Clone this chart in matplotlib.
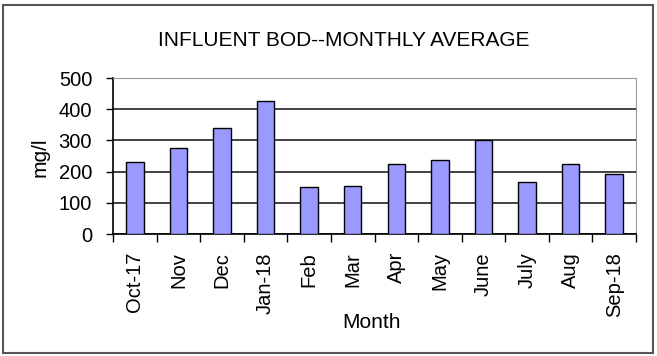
import matplotlib.pyplot as plt
from matplotlib.patches import Rectangle

months = ['Oct-17', 'Nov', 'Dec', 'Jan-18', 'Feb', 'Mar',
          'Apr', 'May', 'June', 'July', 'Aug', 'Sep-18']
bod = [232, 276, 341, 427, 151, 154, 223, 237, 301, 167, 223, 193]

plt.rcParams['font.family'] = ['Liberation Sans', 'DejaVu Sans']

fig = plt.figure(figsize=(6.57, 3.56), dpi=100)
W, H = 657, 356
ax = fig.add_axes([113 / W, 1 - 234 / H, (636 - 113) / W, (234 - 78) / H])

x = range(len(months))
ax.bar(x, bod, width=0.4, color='#9999ff', edgecolor='black', linewidth=1, zorder=3)

ax.set_xlim(-0.5, len(months) - 0.5)
ax.set_ylim(0, 500)
ax.set_yticks([0, 100, 200, 300, 400, 500])
ax.yaxis.grid(True, color='#222222', linewidth=1.2, zorder=0)
ax.set_axisbelow(True)

ax.set_xticks(list(x))
ax.set_xticklabels(months, rotation=90, fontsize=14.5)
ax.set_xticks([i - 0.5 for i in range(len(months) + 1)], minor=True)
ax.tick_params(axis='x', which='major', length=0, pad=13)
ax.tick_params(axis='x', which='minor', length=6, width=1, color='black', direction='out')
ax.tick_params(axis='y', length=5, width=1, labelsize=14.5, pad=10)

for side in ['top', 'right']:
    ax.spines[side].set_color('#999999')
ax.spines['left'].set_linewidth(1.2)
ax.spines['bottom'].set_linewidth(1.2)

fig.text(40 / W, 1 - 157 / H, 'mg/l', rotation=90, ha='center', va='center', fontsize=15)
fig.text(372 / W, 1 - 323 / H, 'Month', ha='center', va='center', fontsize=15)
fig.text(344 / W, 1 - 40 / H, 'INFLUENT BOD--MONTHLY AVERAGE', ha='center', va='center',
         fontsize=15)

fig.patches.append(Rectangle((3 / W, 3 / H), 650 / W, 348 / H, transform=fig.transFigure,
                             fill=False, edgecolor='#555555', linewidth=1.5))

fig.savefig('out.png', dpi=100)
